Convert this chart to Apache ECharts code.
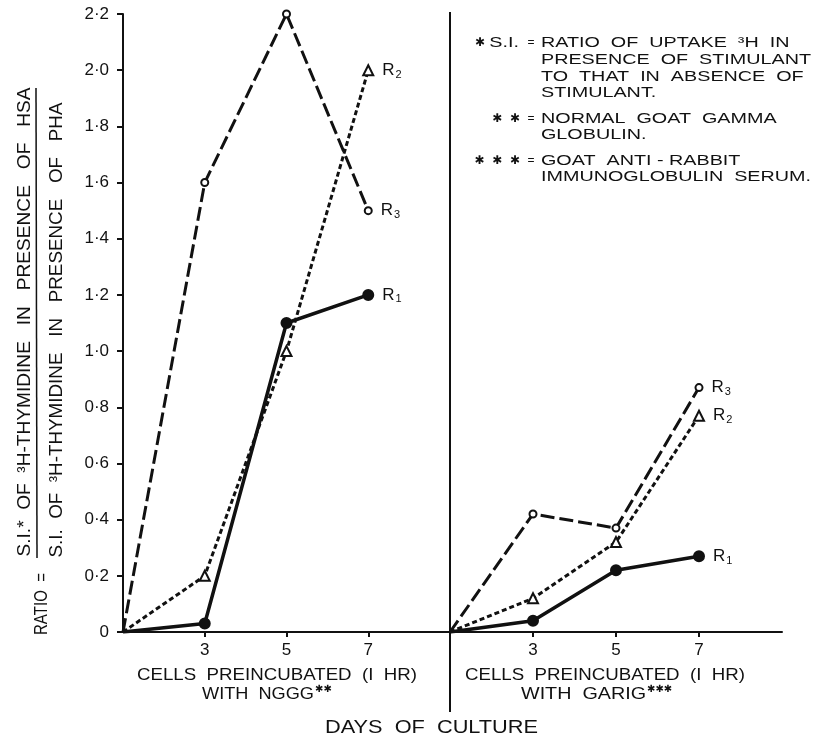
<!DOCTYPE html>
<html>
<head>
<meta charset="utf-8">
<script src="https://cdn.jsdelivr.net/npm/echarts@6/dist/echarts.min.js"></script>
<style>
  html, body { margin: 0; padding: 0; background: #fff; }
  #chart { width: 822px; height: 742px; }
</style>
</head>
<body>
<div id="chart"></div>
<script>
// days of culture (first point sits on the origin of each panel)
const days = [1, 3, 5, 7];
const dayTicks = [3, 5, 7];

// cells preincubated with NGGG
const ngggR1 = [0, 0.03, 1.1, 1.2];
const ngggR2 = [0, 0.2, 1.0, 2.0];
const ngggR3 = [0, 1.6, 2.2, 1.5];

// cells preincubated with GARIG
const garigR1 = [0, 0.04, 0.22, 0.27];
const garigR2 = [0, 0.12, 0.32, 0.77];
const garigR3 = [0, 0.42, 0.37, 0.87];

const FONT = '"Liberation Sans", Arial, sans-serif';
const STAR_FONT = '"DejaVu Sans", sans-serif';
const INK = '#111';

let chart = echarts.init(document.getElementById('chart'));

// stretch a text so it spans the same width as in the figure
let measureCtx = document.createElement('canvas').getContext('2d');
function fitScale(text, size, width) {
    measureCtx.font = size + 'px "Liberation Sans"';
    return width / measureCtx.measureText(text).width;
}

function label(text, x, y, size, width, align, rotation, scale, family) {
    return {
        type: 'text',
        x: x,
        y: y,
        rotation: rotation || 0,
        scaleX: scale || (width ? fitScale(text, size, width) : 1),
        style: {
            text: text,
            fontSize: size,
            fontFamily: family || FONT,
            fill: INK,
            align: align || 'left',
            verticalAlign: 'middle'
        }
    };
}

// footnote lines share one stretch, limited by the widest line
const noteScale = Math.min(
    fitScale('RATIO  OF  UPTAKE  ³H  IN', 14, 274),
    fitScale('PRESENCE  OF  STIMULANT', 14, 270),
    fitScale('TO  THAT  IN  ABSENCE  OF', 14, 276)
);
function note(text, y) {
    return label(text, 541, y, 14, 0, 'left', 0, noteScale);
}

function pairs(ys) {
    return days.map((d, i) => [d, ys[i]]);
}

// style per replicate
const lineStyles = {
    R1: { type: 'solid', width: 3.5 },
    R2: { type: [5, 3], width: 3 },
    R3: { type: [14, 5], width: 3 }
};
const symbols = {
    R1: { symbol: 'circle', size: 10, fill: INK },
    R2: { symbol: 'triangle', size: 10, fill: '#fff' },
    R3: { symbol: 'circle', size: 7, fill: '#fff' }
};

function makeSeries(name, ys, panel) {
    let sym = symbols[name];
    return {
        type: 'line',
        name: name,
        xAxisIndex: panel,
        yAxisIndex: panel,
        data: pairs(ys),
        z: name === 'R1' ? 4 : 3,
        symbol: (v, p) => p.dataIndex === 0 ? 'none' : sym.symbol,
        symbolSize: sym.size,
        showAllSymbol: true,
        animation: false,
        lineStyle: { color: INK, type: lineStyles[name].type, width: lineStyles[name].width },
        itemStyle: { color: sym.fill, borderColor: INK, borderWidth: 2 },
        label: {
            show: true,
            position: 'right',
            distance: 8,
            color: INK,
            fontFamily: FONT,
            formatter: p => p.dataIndex === days.length - 1 ? '{r|R}{s|' + name.slice(1) + '}' : '',
            rich: {
                r: { fontSize: 17, fontFamily: FONT, color: INK, lineHeight: 20 },
                s: { fontSize: 11, fontFamily: FONT, color: INK, lineHeight: 12, verticalAlign: 'bottom', padding: [0, 0, 0, 1] }
            }
        },
        emphasis: { disabled: true }
    };
}

function xAxis(panel) {
    return {
        type: 'value',
        gridIndex: panel,
        min: 1,
        max: 9,
        axisLine: { show: true, onZero: false, lineStyle: { color: INK, width: 2 } },
        axisTick: { show: true, customValues: dayTicks, length: 5, lineStyle: { color: INK, width: 2 } },
        axisLabel: { customValues: dayTicks, color: INK, fontSize: 17, fontFamily: FONT, margin: 10 },
        splitLine: { show: false }
    };
}

let option = {
    backgroundColor: '#fff',
    animation: false,
    grid: [
        { left: 123, top: 14, width: 327, height: 618 },
        { left: 450, top: 14, width: 332, height: 618 }
    ],
    xAxis: [xAxis(0), xAxis(1)],
    yAxis: [{
        type: 'value',
        gridIndex: 0,
        min: 0,
        max: 2.2,
        interval: 0.2,
        axisLine: { show: true, lineStyle: { color: INK, width: 2 } },
        axisTick: { show: true, length: 6, lineStyle: { color: INK, width: 2 } },
        axisLabel: {
            color: INK,
            fontSize: 17,
            fontFamily: FONT,
            margin: 14,
            formatter: v => v === 0 ? '0' : v.toFixed(1).replace('.', '·')
        },
        splitLine: { show: false }
    }, {
        type: 'value',
        gridIndex: 1,
        min: 0,
        max: 2.2,
        show: false
    }],
    series: [
        makeSeries('R3', ngggR3, 0),
        makeSeries('R2', ngggR2, 0),
        makeSeries('R1', ngggR1, 0),
        makeSeries('R3', garigR3, 1),
        makeSeries('R2', garigR2, 1),
        makeSeries('R1', garigR1, 1)
    ],
    graphic: [
        // panel divider
        { type: 'line', shape: { x1: 450, y1: 12, x2: 450, y2: 712 }, style: { stroke: INK, lineWidth: 2 } },

        // y axis title as a fraction
        label('S.I.*  OF  ³H-THYMIDINE   IN   PRESENCE   OF   HSA', 25, 322, 18, 469, 'center', Math.PI / 2),
        { type: 'line', shape: { x1: 36, y1: 88, x2: 37, y2: 558 }, style: { stroke: INK, lineWidth: 1.5 } },
        label('S.I.  OF  ³H-THYMIDINE   IN   PRESENCE   OF   PHA', 57, 330, 18, 455, 'center', Math.PI / 2),
        label('RATIO  =', 42, 604, 18, 62, 'center', Math.PI / 2),

        // panel captions
        label('CELLS  PREINCUBATED  (I  HR)', 137, 675, 17, 280),
        label('WITH  NGGG', 202, 694, 17, 112),
        label('✱✱', 315, 689, 10, 0, 'left', 0, 1, STAR_FONT),
        label('CELLS  PREINCUBATED  (I  HR)', 465, 675, 17, 280),
        label('WITH  GARIG', 521, 694, 17, 125),
        label('✱✱✱', 647, 689, 10, 0, 'left', 0, 1, STAR_FONT),
        label('DAYS  OF  CULTURE', 325, 728, 18, 213),

        // footnotes
        label('✱', 480, 43, 12, 0, 'center', 0, 1, STAR_FONT),
        label('S.I.', 519, 43, 14, 0, 'right', 0, noteScale),
        label('=', 531, 43, 12, 0, 'center'),
        note('RATIO  OF  UPTAKE  ³H  IN', 43),
        note('PRESENCE  OF  STIMULANT', 60),
        note('TO  THAT  IN  ABSENCE  OF', 77),
        note('STIMULANT.', 93),
        label('✱  ✱', 520, 119, 12, 0, 'right', 0, 1, STAR_FONT),
        label('=', 531, 119, 12, 0, 'center'),
        note('NORMAL  GOAT  GAMMA', 119),
        note('GLOBULIN.', 135),
        label('✱  ✱  ✱', 520, 161, 12, 0, 'right', 0, 1, STAR_FONT),
        label('=', 531, 161, 12, 0, 'center'),
        note('GOAT  ANTI - RABBIT', 161),
        note('IMMUNOGLOBULIN  SERUM.', 177)
    ]
};

chart.setOption(option);
</script>
</body>
</html>
